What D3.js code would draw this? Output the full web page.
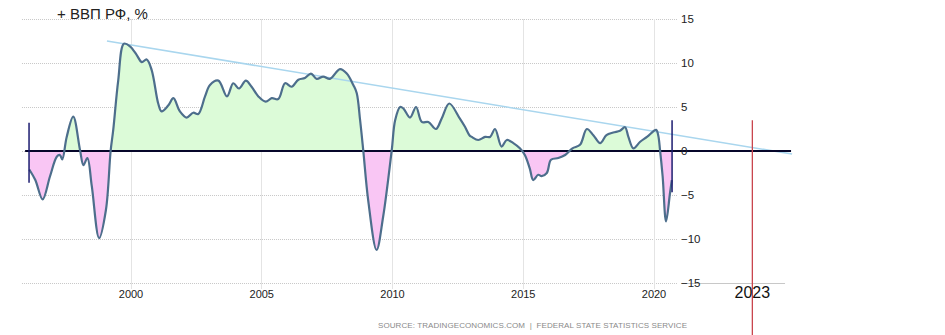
<!DOCTYPE html>
<html>
<head>
<meta charset="utf-8">
<script src="https://cdn.jsdelivr.net/npm/d3@7"></script>
<style>
  html, body { margin: 0; padding: 0; background: #fff; }
  svg { display: block; font-family: "Liberation Sans", Arial, sans-serif; }
</style>
</head>
<body>
<svg id="chart" width="945" height="335"></svg>
<script>
// ---- data ----
const years = [
  1996.13, 1996.36, 1996.64, 1996.92, 1997.18, 1997.30, 1997.39, 1997.56, 1997.81, 1998.07,
  1998.20, 1998.35, 1998.52, 1998.80, 1999.06, 1999.24, 1999.34, 1999.53, 1999.75, 1999.98,
  2000.24, 2000.43, 2000.62, 2000.81, 2001.06, 2001.19, 2001.45, 2001.64, 2001.89, 2002.15,
  2002.40, 2002.59, 2002.85, 2003.04, 2003.36, 2003.69, 2003.93, 2004.15, 2004.41, 2004.63,
  2004.89, 2005.17, 2005.40, 2005.65, 2005.91, 2006.16, 2006.42, 2006.67, 2006.90, 2007.12,
  2007.37, 2007.63, 2008.01, 2008.27, 2008.52, 2008.65, 2008.78, 2008.90, 2009.09, 2009.41,
  2009.66, 2009.99, 2010.12, 2010.31, 2010.43, 2010.69, 2010.92, 2011.14, 2011.39, 2011.68,
  2011.90, 2012.19, 2012.59, 2012.79, 2012.96, 2013.05, 2013.30, 2013.56, 2013.75, 2013.94,
  2014.19, 2014.39, 2014.64, 2014.89, 2015.08, 2015.27, 2015.40, 2015.59, 2015.72, 2015.92,
  2016.08, 2016.36, 2016.62, 2016.90, 2017.19, 2017.45, 2017.70, 2017.96, 2018.20, 2018.46,
  2018.72, 2018.91, 2019.04, 2019.23, 2019.49, 2019.75, 2020.10, 2020.18, 2020.25, 2020.35,
  2020.48, 2020.63, 2020.70
];
const gdp = [
  -2.1, -3.3, -5.5, -2.9, -0.65, -0.45, -0.95, 1.6, 3.9, 0.1,
  -1.6, -0.8, -4.0, -9.9, -6.7, 0.0, 2.4, 8.0, 12.2, 11.9,
  10.9, 10.1, 10.4, 9.2, 5.4, 4.5, 5.2, 6.0, 4.5, 3.8,
  4.35, 4.2, 6.2, 7.5, 8.0, 6.2, 7.7, 7.1, 8.0, 7.3,
  6.2, 5.6, 6.0, 5.9, 7.7, 7.3, 8.1, 8.3, 8.8, 8.2,
  8.45, 8.2, 9.3, 8.8, 7.5, 6.6, 3.5, 0.1, -5.6, -11.25,
  -7.5, 0.1, 3.5, 5.0, 4.85, 3.8, 5.0, 3.3, 3.3, 2.5,
  3.7, 5.4, 3.7, 2.75, 1.8, 1.6, 1.25, 1.6, 1.6, 2.5,
  0.5, 1.25, 0.9, 0.3, -0.45, -2.0, -3.3, -2.7, -2.85, -2.5,
  -1.0, -0.8, -0.45, 0.3, 0.7, 2.5, 1.8, 0.9, 1.8, 2.1,
  2.3, 2.7, 1.6, 0.3, 1.05, 1.6, 2.4, 1.8, 0.1, -2.9,
  -8.0, -4.8, -3.3
];
const xTicks = [2000, 2005, 2010, 2015, 2020];
const yTicks = [-15, -10, -5, 0, 5, 10, 15];
const trendYears = [1999.1, 2025.3];
const trendValues = [12.5, -0.35];
const zeroLineYears = [1995.97, 2025.26];
const gridYears = [1995.85, 2020.9];
const rightAxisYears = [2021.05, 2025.03];
const endBarYears = [1996.12, 2020.71];
const endBarTops = [3.2, 3.5];
const endBarBottoms = [-3.6, -4.7];
const markerYear = 2023.78;
const markerTop = 3.5;
const markerLabel = "2023";
const titleText = "+ ВВП РФ, %";
const sourceText = "SOURCE: TRADINGECONOMICS.COM  |  FEDERAL STATE STATISTICS SERVICE";

// ---- chart ----
const svg = d3.select("#chart");
const x = d3.scaleLinear().domain([2000, 2020]).range([130.5, 653.5]);
const y = d3.scaleLinear().domain([-15, 15]).range([283, 19]);
const pts = years.map((t, i) => ({ t, v: gdp[i] }));

// horizontal dotted gridlines
svg.append("g").selectAll("line").data(yTicks).join("line")
  .attr("x1", x(gridYears[0])).attr("x2", x(gridYears[1]))
  .attr("y1", d => y(d) + 0.5).attr("y2", d => y(d) + 0.5)
  .attr("stroke", "#c8c8c8").attr("stroke-width", 1)
  .attr("stroke-dasharray", "1,1");

// vertical gridlines
svg.append("g").selectAll("line").data(xTicks).join("line")
  .attr("x1", d => Math.round(x(d)) + 0.5).attr("x2", d => Math.round(x(d)) + 0.5)
  .attr("y1", y(15)).attr("y2", y(-15) + 6)
  .attr("stroke", "#e4e4e4").attr("stroke-width", 1);

// right axis base line at -15
svg.append("line")
  .attr("x1", x(rightAxisYears[0])).attr("x2", x(rightAxisYears[1]))
  .attr("y1", y(-15) + 0.5).attr("y2", y(-15) + 0.5)
  .attr("stroke", "#c8c8c8").attr("stroke-width", 1);

// areas
const defs = svg.append("defs");
defs.append("clipPath").attr("id", "clipPos").append("rect")
  .attr("x", 0).attr("y", 0).attr("width", 945).attr("height", y(0));
defs.append("clipPath").attr("id", "clipNeg").append("rect")
  .attr("x", 0).attr("y", y(0)).attr("width", 945).attr("height", 335 - y(0));

const curve = d3.curveCatmullRom.alpha(0.5);
const area = d3.area().x(d => x(d.t)).y0(y(0)).y1(d => y(d.v)).curve(curve);
svg.append("path").datum(pts).attr("d", area)
  .attr("fill", "#dcfbd8").attr("clip-path", "url(#clipPos)");
svg.append("path").datum(pts).attr("d", area)
  .attr("fill", "#f9c6f4").attr("clip-path", "url(#clipNeg)");

// trend line
svg.append("line")
  .attr("x1", x(trendYears[0])).attr("y1", y(trendValues[0]))
  .attr("x2", x(trendYears[1])).attr("y2", y(trendValues[1]))
  .attr("stroke", "#a9d6ee").attr("stroke-width", 1.6);

// zero line
svg.append("line")
  .attr("x1", x(zeroLineYears[0])).attr("x2", x(zeroLineYears[1]))
  .attr("y1", y(0)).attr("y2", y(0))
  .attr("stroke", "#06062a").attr("stroke-width", 2);

// main line
const line = d3.line().x(d => x(d.t)).y(d => y(d.v)).curve(curve);
svg.append("path").datum(pts).attr("d", line)
  .attr("fill", "none").attr("stroke", "#4d6e8c").attr("stroke-width", 2.2)
  .attr("stroke-linejoin", "round");

// navy end bars
svg.append("g").selectAll("line").data(endBarYears).join("line")
  .attr("x1", d => x(d)).attr("x2", d => x(d))
  .attr("y1", (d, i) => y(endBarTops[i])).attr("y2", (d, i) => y(endBarBottoms[i]))
  .attr("stroke", "#1c1c70").attr("stroke-width", 1.5);

// red marker
svg.append("line")
  .attr("x1", x(markerYear)).attr("x2", x(markerYear))
  .attr("y1", y(markerTop)).attr("y2", 335)
  .attr("stroke", "#c9464e").attr("stroke-width", 1.3);

// y axis labels (right)
const yAxis = d3.axisRight(y).tickValues(yTicks).tickSize(0).tickPadding(0)
  .tickFormat(d3.format("d"));
const gy = svg.append("g").attr("transform", "translate(681,0)").call(yAxis);
gy.select(".domain").remove();
gy.selectAll("text").attr("font-size", 11.5).attr("fill", "#222")
  .attr("font-family", "Liberation Sans, Arial, sans-serif");

// x axis labels
const xAxis = d3.axisBottom(x).tickValues(xTicks).tickSize(0).tickPadding(7.5)
  .tickFormat(d3.format("d"));
const gx = svg.append("g").attr("transform", `translate(0,${y(-15)})`).call(xAxis);
gx.select(".domain").remove();
gx.selectAll("text").attr("font-size", 11).attr("fill", "#222")
  .attr("font-family", "Liberation Sans, Arial, sans-serif");

// marker label
svg.append("text").attr("x", x(markerYear)).attr("y", 298)
  .attr("text-anchor", "middle").attr("font-size", 16).attr("fill", "#111")
  .text(markerLabel);

// title
svg.append("text").attr("x", 57).attr("y", 19)
  .attr("font-size", 15).attr("fill", "#222").text(titleText);

// source
svg.append("text").attr("x", 378).attr("y", 328)
  .attr("font-size", 8).attr("fill", "#8a8a8a")
  .attr("textLength", 309).attr("lengthAdjust", "spacing")
  .style("white-space", "pre")
  .text(sourceText);
</script>
</body>
</html>
